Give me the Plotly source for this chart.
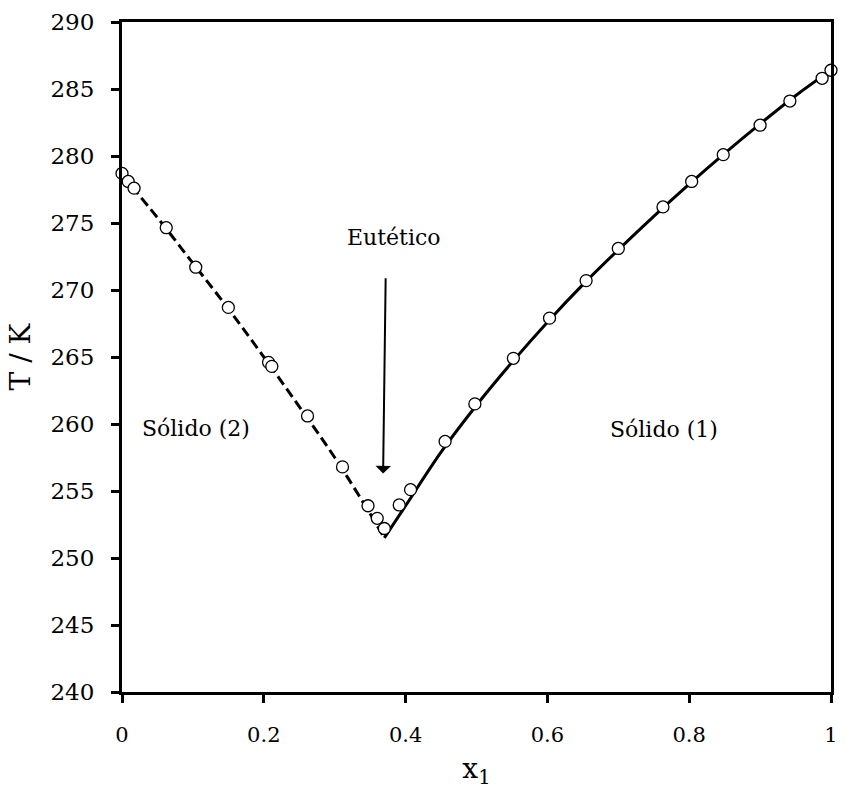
import plotly.graph_objects as go

# Experimental points
x_exp = [0.0, 0.0088, 0.017, 0.0624, 0.104, 0.150, 0.2067, 0.2113, 0.2617, 0.311,
         0.347, 0.360, 0.370, 0.391, 0.407, 0.4557, 0.4977, 0.552, 0.603, 0.6546,
         0.700, 0.763, 0.8035, 0.848, 0.900, 0.942, 0.9875, 1.0]
T_exp = [278.7, 278.1, 277.6, 274.65, 271.7, 268.7, 264.6, 264.3, 260.6, 256.8,
         253.9, 252.96, 252.2, 253.96, 255.1, 258.7, 261.5, 264.9, 267.9, 270.7,
         273.1, 276.2, 278.1, 280.1, 282.3, 284.1, 285.8, 286.4]

# Fitted liquidus curve, component 2 side (dashed)
x_fit2 = [0.0, 0.05, 0.10, 0.15, 0.20, 0.25, 0.30, 0.35, 0.37]
T_fit2 = [278.6, 275.4, 272.0, 268.6, 265.0, 261.3, 257.5, 253.3, 251.5]

# Fitted liquidus curve, component 1 side (solid)
x_fit1 = [0.37, 0.40, 0.45, 0.50, 0.55, 0.60, 0.65, 0.70, 0.75, 0.80, 0.85, 0.90, 0.95, 1.0]
T_fit1 = [251.5, 253.9, 257.9, 261.4, 264.6, 267.6, 270.4, 273.0, 275.5, 277.9, 280.2, 282.4, 284.5, 286.4]

x_ticks = [0, 0.2, 0.4, 0.6, 0.8, 1]
x_tick_text = ["0", "0.2", "0.4", "0.6", "0.8", "1"]
y_ticks = [240, 245, 250, 255, 260, 265, 270, 275, 280, 285, 290]

FONT = "DejaVu Serif"

fig = go.Figure()
fig.add_trace(go.Scatter(x=x_fit2, y=T_fit2, mode="lines", line_shape="spline",
                         line=dict(color="black", width=3, dash="10px,5px"),
                         hoverinfo="skip", showlegend=False))
fig.add_trace(go.Scatter(x=x_fit1, y=T_fit1, mode="lines", line_shape="spline",
                         line=dict(color="black", width=3),
                         hoverinfo="skip", showlegend=False))
fig.add_trace(go.Scatter(x=x_exp, y=T_exp, mode="markers",
                         marker=dict(symbol="circle", size=12, color="white",
                                     line=dict(color="black", width=1.3)),
                         cliponaxis=False, showlegend=False))

fig.add_annotation(x=0.3683, y=256.3, ax=0.372, ay=271.4, xref="x", yref="y",
                   axref="x", ayref="y", text=" ", showarrow=True,
                   arrowhead=1, arrowsize=1.3, arrowwidth=2, arrowcolor="black",
                   font=dict(family=FONT, size=10))
fig.add_annotation(x=0.383, y=273.9, text="Eutético", showarrow=False,
                   font=dict(family=FONT, size=22, color="black"))
fig.add_annotation(x=0.104, y=259.7, text="Sólido (2)", showarrow=False,
                   font=dict(family=FONT, size=22, color="black"))
fig.add_annotation(x=0.765, y=259.6, text="Sólido (1)", showarrow=False,
                   font=dict(family=FONT, size=22, color="black"))

axis_common = dict(showgrid=False, zeroline=False, showline=True, linecolor="black",
                   linewidth=3, mirror=True, ticks="outside", ticklen=8, tickwidth=3,
                   tickcolor="black")

fig.update_xaxes(range=[0, 1], tickvals=x_ticks, ticktext=x_tick_text,
                 tickfont=dict(family=FONT, size=21, color="black"),
                 ticklabelstandoff=14,
                 title=dict(text="x<sub>1</sub>", font=dict(family=FONT, size=28, color="black"),
                            standoff=14),
                 **axis_common)
fig.update_yaxes(range=[240, 290], tickvals=y_ticks,
                 tickfont=dict(family=FONT, size=23, color="black"),
                 ticklabelstandoff=12,
                 title=dict(text="T / K", font=dict(family=FONT, size=28, color="black"),
                            standoff=12),
                 **axis_common)

fig.update_layout(width=845, height=789, margin=dict(l=122, r=7, t=22, b=97),
                  paper_bgcolor="white", plot_bgcolor="white")

fig.write_html("out.html")
